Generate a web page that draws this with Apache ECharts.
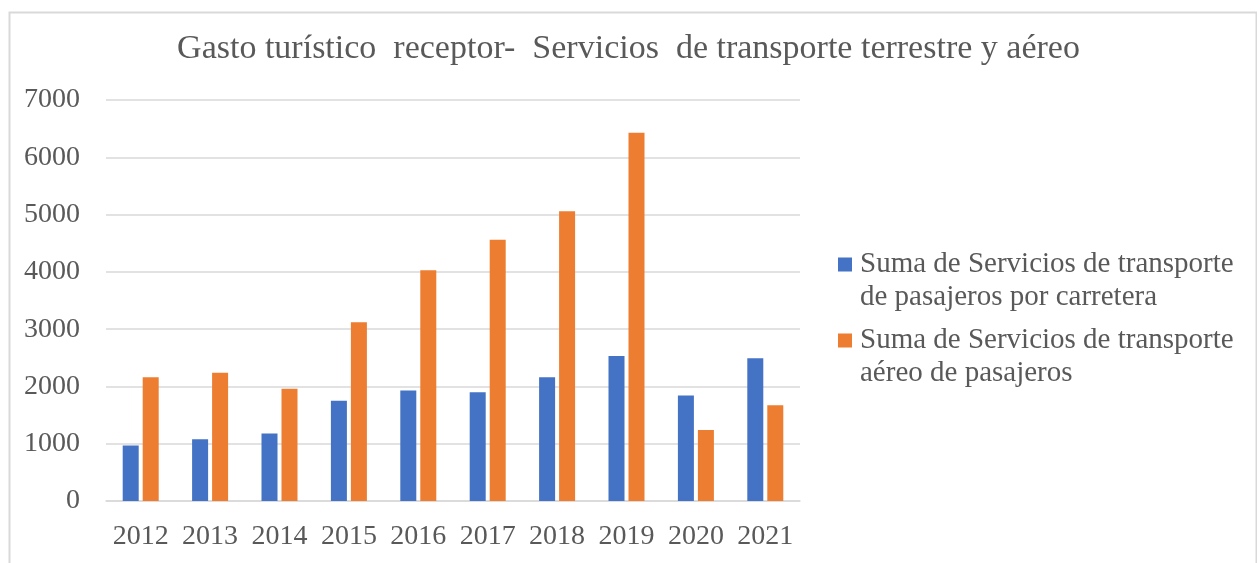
<!DOCTYPE html>
<html>
<head>
<meta charset="utf-8">
<script src="https://cdn.jsdelivr.net/npm/echarts@6/dist/echarts.min.js"></script>
<style>
  html, body { margin: 0; padding: 0; background: #fff; }
  #chart { width: 1257px; height: 563px; }
</style>
</head>
<body>
<div id="chart"></div>
<script>
const years = ['2012', '2013', '2014', '2015', '2016', '2017', '2018', '2019', '2020', '2021'];
const carretera = [970, 1080, 1180, 1750, 1930, 1900, 2160, 2530, 1840, 2490];
const aereo = [2160, 2240, 1960, 3120, 4030, 4560, 5060, 6430, 1240, 1670];
const seriesNames = [
    'Suma de Servicios de transporte\nde pasajeros por carretera',
    'Suma de Servicios de transporte\naéreo de pasajeros'
];

const font = '"Liberation Serif", "Times New Roman", serif';
const textColor = '#595959';

let chart = echarts.init(document.getElementById('chart'));
chart.setOption({
    animation: false,
    color: ['#4472C4', '#ED7D31'],
    graphic: [{
        type: 'rect',
        left: 7, top: 10,
        shape: { width: 1247, height: 580 },
        style: { fill: 'none', stroke: '#d9d9d9', lineWidth: 2 },
        silent: true
    }],
    title: {
        text: 'Gasto turístico  receptor-  Servicios  de transporte terrestre y aéreo',
        left: 'center',
        top: 27,
        textStyle: { fontFamily: font, fontSize: 34, fontWeight: 'normal', color: textColor }
    },
    legend: {
        orient: 'vertical',
        left: 838,
        top: 248,
        padding: 0,
        itemWidth: 14,
        itemHeight: 66,
        itemGap: 10,
        // square aligned with the first text line
        icon: 'path://M0,9.5h14v14h-14z M0,0h0.01v0.01z M13.99,66h0.01v0.01z',
        textStyle: { fontFamily: font, fontSize: 29, color: textColor, lineHeight: 33, padding: [0, 0, 0, 3] },
        data: seriesNames
    },
    grid: { left: 106, right: 457, top: 100, bottom: 62 },
    xAxis: {
        type: 'category',
        data: years,
        axisLine: { lineStyle: { color: '#d9d9d9', width: 1.5 } },
        axisTick: { show: false },
        axisLabel: { fontFamily: font, fontSize: 28, color: textColor, margin: 22, interval: 0 }
    },
    yAxis: {
        type: 'value',
        min: 0, max: 7000, interval: 1000,
        axisLine: { show: false },
        axisTick: { show: false },
        splitLine: { lineStyle: { color: '#d9d9d9', width: 1.5 } },
        axisLabel: { fontFamily: font, fontSize: 28, color: textColor, margin: 26, formatter: v => String(v) }
    },
    series: [
        { name: seriesNames[0], type: 'bar', data: carretera, barWidth: 16, barGap: '25%' },
        { name: seriesNames[1], type: 'bar', data: aereo, barWidth: 16, barGap: '25%' }
    ]
});
</script>
</body>
</html>
